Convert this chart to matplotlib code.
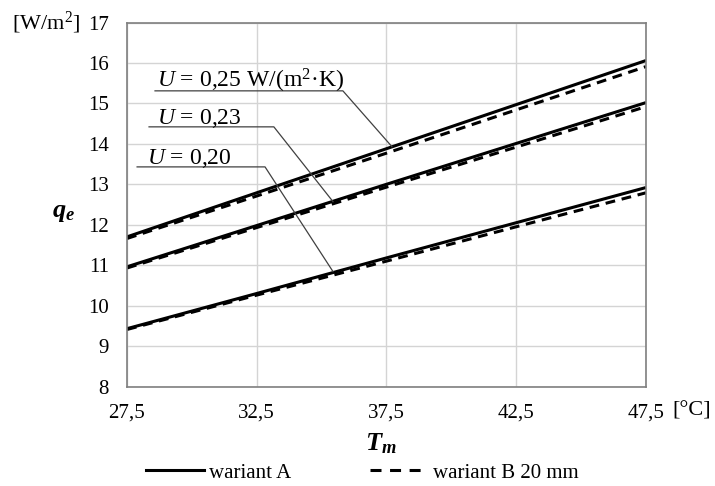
import matplotlib.pyplot as plt
from matplotlib.lines import Line2D

plt.rcParams['font.family'] = ['Liberation Serif', 'DejaVu Serif']
plt.rcParams['mathtext.fontset'] = 'custom'
plt.rcParams['mathtext.rm'] = 'Liberation Serif'
plt.rcParams['mathtext.it'] = 'Liberation Serif:italic'
plt.rcParams['mathtext.bf'] = 'Liberation Serif:bold'
plt.rcParams['mathtext.bfit'] = 'Liberation Serif:italic:bold'

# temperatura T_m [°C]
tm = [27.5, 32.5, 37.5, 42.5, 47.5]

# q_e [W/m2] - wariant A (ciagla) i wariant B 20 mm (przerywana)
qa_025 = [11.70, 12.79, 13.88, 14.97, 16.06]
qb_025 = [11.66, 12.71, 13.77, 14.84, 15.91]
qa_023 = [10.96, 11.98, 13.00, 14.01, 15.02]
qb_023 = [10.93, 11.93, 12.93, 13.92, 14.92]
qa_020 = [9.43, 10.30, 11.18, 12.05, 12.92]
qb_020 = [9.41, 10.26, 11.10, 11.95, 12.79]

xticks = [27.5, 32.5, 37.5, 42.5, 47.5]
xtick_labels = ['27,5', '32,5', '37,5', '42,5', '47,5']
yticks = [8, 9, 10, 11, 12, 13, 14, 15, 16, 17]

fig = plt.figure(figsize=(7.15, 4.86), dpi=100)
ax = fig.add_axes([0.1776, 0.2047, 0.9035 - 0.1776, 0.9537 - 0.2047])

for qa, qb in [(qa_025, qb_025), (qa_023, qb_023), (qa_020, qb_020)]:
    ax.plot(tm, qa, color='black', lw=2.2, solid_capstyle='butt')
    ax.plot(tm, qb, color='black', lw=2.2, dashes=(3.2, 2.2))

ax.set_xlim(27.5, 47.5)
ax.set_ylim(8, 17)
ax.set_xticks(xticks)
ax.set_xticklabels(xtick_labels)
ax.set_yticks(yticks)
ax.tick_params(length=0, labelsize=15)
ax.tick_params(axis='x', pad=12)
ax.tick_params(axis='y', pad=13)
ax.grid(True, color='#d4d4d4', lw=1)
ax.set_axisbelow(True)
for s in ax.spines.values():
    s.set_color('#7f7f7f')
    s.set_linewidth(1.2)

# opisy krzywych: tekst, linia pod tekstem, linia odniesienia do krzywej
labels = [
    (r'$U$ = 0,25 W/(m$^2$·K)', 28.66, 15.38, 28.58, 35.82, 15.31, 37.71, 13.93),
    (r'$U$ = 0,23', 28.66, 14.49, 28.35, 33.16, 14.42, 35.44, 12.57),
    (r'$U$ = 0,20', 28.27, 13.51, 27.89, 32.82, 13.43, 35.44, 10.84),
]
for txt, tx, ty, x0, x1, y0, xe, ye in labels:
    ax.plot([x0, x1, xe], [y0, y0, ye], color='#404040', lw=0.9, clip_on=False)
    ax.text(tx, ty, txt, fontsize=17, ha='left', va='baseline')

fig.text(0.064, 0.953, r'[W/m$^2$]', fontsize=16, ha='center', va='center')
fig.text(0.968, 0.155, '[°C]', fontsize=16, ha='center', va='center')
fig.text(0.0895, 0.562, r'$\mathbfit{q}_{\mathbfit{e}}$', fontsize=19,
         ha='center', va='center')
fig.text(0.533, 0.088, r'$\mathbfit{T}_{\mathbfit{m}}$', fontsize=19,
         ha='center', va='center')

handles = [Line2D([], [], color='black', lw=2.2),
           Line2D([], [], color='black', lw=2.2, dashes=(3.6, 2.8))]
fig.legend(handles, ['wariant A', 'wariant B 20 mm'], loc='center',
           bbox_to_anchor=(0.507, 0.027), ncol=2, frameon=False, fontsize=15,
           handlelength=2.75, columnspacing=3.8, handletextpad=0.25,
           borderpad=0, borderaxespad=0)

fig.savefig('out.png', dpi=100)
